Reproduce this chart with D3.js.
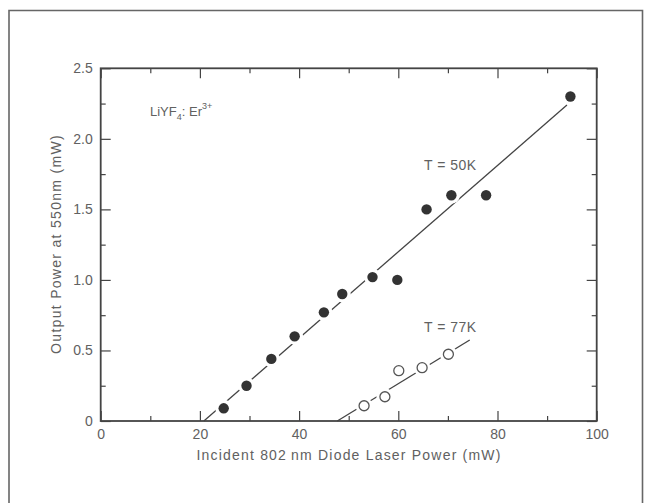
<!DOCTYPE html>
<html>
<head>
<meta charset="utf-8">
<script src="https://cdn.jsdelivr.net/npm/d3@7"></script>
<style>
  body { margin: 0; background: #fff; }
  svg text { font-family: "Liberation Sans", Arial, sans-serif; fill: #616161; }
</style>
</head>
<body>
<svg id="chart" width="645" height="503"></svg>
<script>
// T = 50K, filled circles
const power50 = [24.8, 29.4, 34.4, 39.1, 45.0, 48.7, 54.8, 59.8, 65.7, 70.7, 77.7, 94.7]
const output50 = [0.09, 0.25, 0.44, 0.60, 0.77, 0.90, 1.02, 1.00, 1.50, 1.60, 1.60, 2.30]
// T = 77K, open circles
const power77 = [53.1, 57.3, 60.1, 64.8, 70.1]
const output77 = [0.108, 0.172, 0.357, 0.378, 0.473]
// fitted lines, end points
const fit50 = [[20.8, 0], [94.0, 2.24]]
const fit77 = [[47.7, 0], [74.4, 0.574]]

const xMajor = [0, 20, 40, 60, 80, 100]
const xMinor = [10, 30, 50, 70, 90]
const yMajor = [0, 0.5, 1.0, 1.5, 2.0, 2.5]
const yMinor = [0.25, 0.75, 1.25, 1.75, 2.25]
const yLabels = ["0", "0.5", "1.0", "1.5", "2.0", "2.5"]

const svg = d3.select('#chart')
const ink = '#444'

// outer frame of the figure
svg.append('path')
    .attr('d', 'M9,503V10.5H642.5V503')
    .attr('fill', 'none')
    .attr('stroke', '#666')
    .attr('stroke-width', 1.6)

const plotL = 100.7, plotR = 596.7, plotT = 68.3, plotB = 421
const x = d3.scaleLinear().domain([0, 100]).range([plotL, plotR])
const y = d3.scaleLinear().domain([0, 2.5]).range([plotB, plotT])

const axisStyle = (g) => {
    g.select('.domain').remove()
    g.selectAll('line').attr('stroke', ink).attr('stroke-width', 1.2)
    g.selectAll('text')
        .style('font-size', '14px')
        .attr('fill', '#616161')
}

// bottom
svg.append('g')
    .attr('transform', 'translate(0,' + plotB + ')')
    .call(d3.axisBottom(x).tickValues(xMajor).tickSizeInner(-10).tickSizeOuter(0).tickPadding(8.5).tickFormat(d3.format('d')))
    .call(axisStyle)
svg.append('g')
    .attr('transform', 'translate(0,' + plotB + ')')
    .call(d3.axisBottom(x).tickValues(xMinor).tickSizeInner(-5).tickSizeOuter(0).tickFormat(''))
    .call(axisStyle)
// top
svg.append('g')
    .attr('transform', 'translate(0,' + plotT + ')')
    .call(d3.axisTop(x).tickValues(xMajor).tickSizeInner(-10).tickSizeOuter(0).tickFormat(''))
    .call(axisStyle)
svg.append('g')
    .attr('transform', 'translate(0,' + plotT + ')')
    .call(d3.axisTop(x).tickValues(xMinor).tickSizeInner(-5).tickSizeOuter(0).tickFormat(''))
    .call(axisStyle)
// left
svg.append('g')
    .attr('transform', 'translate(' + plotL + ',0)')
    .call(d3.axisLeft(y).tickValues(yMajor).tickSizeInner(-10).tickSizeOuter(0).tickPadding(8)
        .tickFormat((d, i) => yLabels[i]))
    .call(axisStyle)
svg.append('g')
    .attr('transform', 'translate(' + plotL + ',0)')
    .call(d3.axisLeft(y).tickValues(yMinor).tickSizeInner(-5).tickSizeOuter(0).tickFormat(''))
    .call(axisStyle)
// right
svg.append('g')
    .attr('transform', 'translate(' + plotR + ',0)')
    .call(d3.axisRight(y).tickValues(yMajor).tickSizeInner(-10).tickSizeOuter(0).tickFormat(''))
    .call(axisStyle)
svg.append('g')
    .attr('transform', 'translate(' + plotR + ',0)')
    .call(d3.axisRight(y).tickValues(yMinor).tickSizeInner(-5).tickSizeOuter(0).tickFormat(''))
    .call(axisStyle)

// plot box
svg.append('rect')
    .attr('x', plotL).attr('y', plotT)
    .attr('width', plotR - plotL).attr('height', plotB - plotT)
    .attr('fill', 'none')
    .attr('stroke', ink)
    .attr('stroke-width', 1.8)

// fit lines
const line = d3.line().x(d => x(d[0])).y(d => y(d[1]))
svg.selectAll('.fit')
    .data([fit50, fit77])
    .enter().append('path')
    .attr('class', 'fit')
    .attr('d', line)
    .attr('fill', 'none')
    .attr('stroke', ink)
    .attr('stroke-width', 1.3)

const pts50 = power50.map((p, i) => [p, output50[i]])
const pts77 = power77.map((p, i) => [p, output77[i]])

// white halo so the line breaks around each marker
svg.selectAll('.halo')
    .data(pts50.concat(pts77))
    .enter().append('circle')
    .attr('class', 'halo')
    .attr('cx', d => x(d[0])).attr('cy', d => y(d[1]))
    .attr('r', 8.5)
    .attr('fill', '#fff')

svg.selectAll('.filled')
    .data(pts50)
    .enter().append('circle')
    .attr('class', 'filled')
    .attr('cx', d => x(d[0])).attr('cy', d => y(d[1]))
    .attr('r', 5.2)
    .attr('fill', '#333')

svg.selectAll('.open')
    .data(pts77)
    .enter().append('circle')
    .attr('class', 'open')
    .attr('cx', d => x(d[0])).attr('cy', d => y(d[1]))
    .attr('r', 5)
    .attr('fill', '#fff')
    .attr('stroke', '#555')
    .attr('stroke-width', 1.3)

// labels
svg.append('text')
    .attr('x', 424).attr('y', 170)
    .style('font-size', '14px')
    .style('letter-spacing', '0.5px')
    .text('T = 50K')
svg.append('text')
    .attr('x', 424).attr('y', 332)
    .style('font-size', '14px')
    .style('letter-spacing', '0.5px')
    .text('T = 77K')

const chem = svg.append('text')
    .attr('x', 150).attr('y', 116)
    .style('font-size', '13px')
chem.append('tspan').text('LiYF')
chem.append('tspan').attr('dy', 4).style('font-size', '9px').text('4')
chem.append('tspan').attr('dy', -4).text(': Er')
chem.append('tspan').attr('dy', -7).style('font-size', '9px').text('3+')

svg.append('text')
    .attr('x', 349).attr('y', 460)
    .attr('text-anchor', 'middle')
    .style('font-size', '14px')
    .style('letter-spacing', '1.2px')
    .text('Incident 802\u2009nm Diode Laser Power (mW)')

svg.append('text')
    .attr('transform', 'translate(61,244) rotate(-90)')
    .attr('text-anchor', 'middle')
    .style('font-size', '14px')
    .style('letter-spacing', '1.3px')
    .text('Output Power at 550nm (mW)')
</script>
</body>
</html>
